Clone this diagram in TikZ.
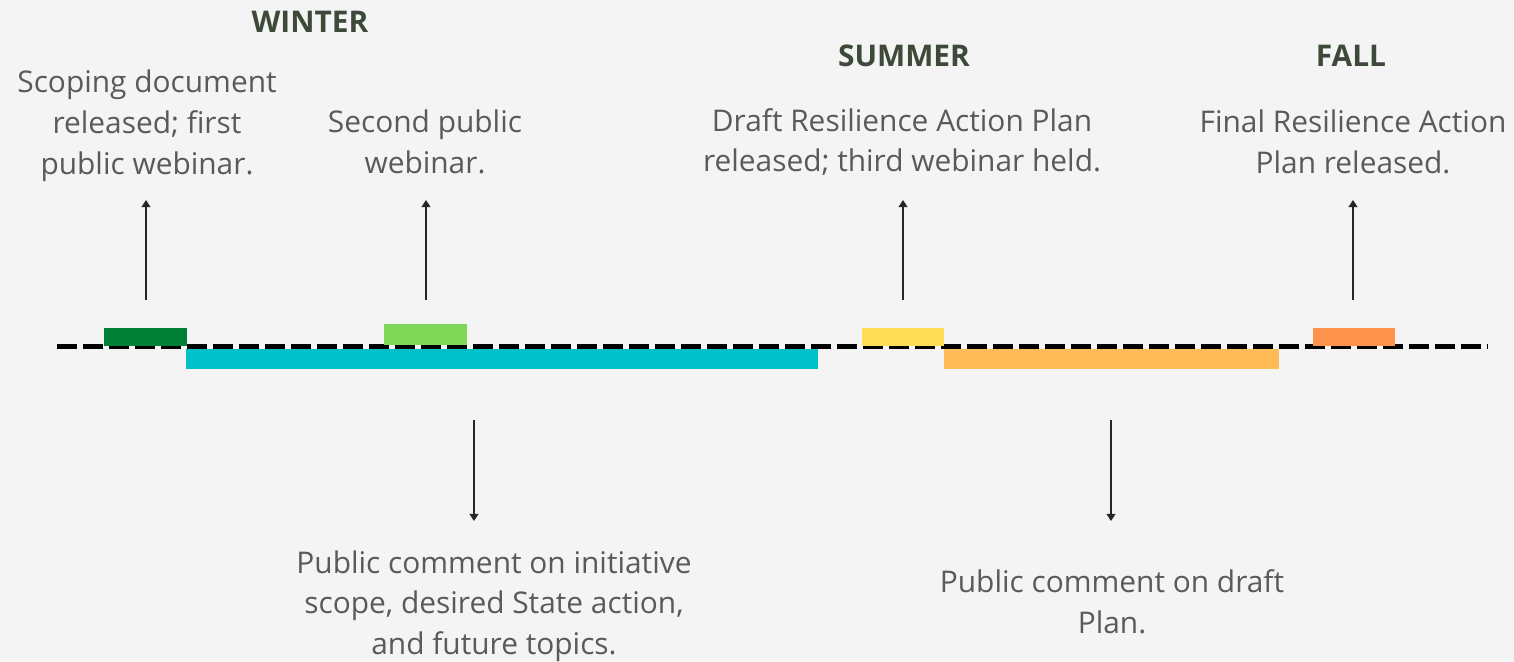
\documentclass[tikz,border=0pt]{standalone}
\usepackage{fontspec}
\setmainfont{Open Sans}
\usepackage{xcolor}
\usetikzlibrary{positioning,arrows.meta}

\definecolor{bgcol}{HTML}{F4F4F4}
\definecolor{txtcol}{HTML}{5A5A5A}
\definecolor{headcol}{HTML}{3E4A39}
\definecolor{barA}{HTML}{007F36}
\definecolor{barB}{HTML}{00C1C9}
\definecolor{barC}{HTML}{80D858}
\definecolor{barD}{HTML}{FFDD57}
\definecolor{barE}{HTML}{FFBB58}
\definecolor{barF}{HTML}{FF924C}

\tikzset{
    bar/.style={rectangle, inner sep=0pt, outer sep=0pt},
    note/.style={align=center, text=txtcol, font=\fontsize{17}{23.2}\selectfont},
    season/.style={text=headcol, font=\fontsize{17}{20}\selectfont\bfseries},
    pointer/.style={-{Triangle[width=5pt,length=4pt]}, line width=0.7pt, black!85}
}

\begin{document}
\begin{tikzpicture}[x=0.02cm, y=-0.02cm]
    \fill[bgcol] (0,0) rectangle (1514,662);
    \useasboundingbox (0,0) rectangle (1514,662);

    % timeline
    \coordinate (tl0) at (57,346.5);
    \coordinate (tl1) at (1487,346.5);
    \draw[line width=2.3pt, dash pattern=on 0.4cm off 0.12cm] (tl0) -- (tl1);

    % bars: name/centre x/centre y/width/height/colour
    \foreach \n/\cx/\cy/\w/\h/\c in {wa/145.5/337/83/18/barA, wb/502/358.5/632/20/barB,
        wc/425.5/334.5/83/21/barC, sa/903/337/82/18/barD, sb/1111.5/359/335/20/barE,
        fa/1354/337/82/18/barF}
        \node [bar, fill=\c, minimum width=\w*0.02cm, minimum height=\h*0.02cm] (\n) at (\cx,\cy) {};

    % seasons
    \node [season] (winter) at (310,22) {WINTER};
    \node [season] (summer) at (904,56) {SUMMER};
    \node [season] (fall) at (1351,56) {FALL};

    % notes
    \node [note] (n1) at (147,126) {Scoping document\\released; first\\public webinar.};
    \node [note] (n2) at (425,142) {Second public\\webinar.};
    \node [note] (n3) at (902,142) {Draft Resilience Action Plan\\released; third webinar held.};
    \node [note] (n4) at (1353,142) {Final Resilience Action\\Plan released.};
    \node [note] (n5) at (494,606) {Public comment on initiative\\scope, desired State action,\\and future topics.};
    \node [note] (n6) at (1112,602) {Public comment on draft\\Plan.};

    % pointers
    \foreach \x/\n in {146/a, 426/b, 903/c, 1353/d}{
        \coordinate (u\n0) at (\x,300);
        \coordinate (u\n1) at (\x,200);
        \draw [pointer] (u\n0) -- (u\n1);
    }
    \foreach \x/\n in {474/a, 1111/b}{
        \coordinate (d\n0) at (\x,420);
        \coordinate (d\n1) at (\x,521);
        \draw [pointer] (d\n0) -- (d\n1);
    }
\end{tikzpicture}
\end{document}
